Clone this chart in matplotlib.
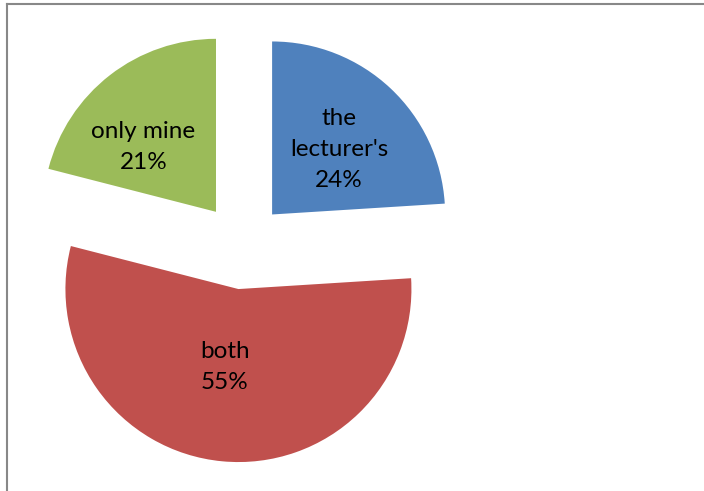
import numpy as np
import matplotlib.pyplot as plt
from matplotlib.lines import Line2D

# --- Data ---
labels = ["the\nlecturer's", "both", "only mine"]
shares = [24, 55, 21]
colors = ["#4F81BD", "#C0504D", "#9BBB59"]
# label offset from each exploded wedge's centre, in radius units
label_off = [(0.387, 0.376), (-0.078, -0.451), (-0.42, 0.376)]

plt.rcParams['font.family'] = ['Lato', 'DejaVu Sans']

W, H = 704, 491
R = 173.0              # pie radius in pixels
cx, cy = 242.5, 245.0  # pie centre in pixels (from bottom-left)
explode = 0.25

fig = plt.figure(figsize=(W / 100, H / 100), dpi=100)
ax = fig.add_axes([0, 0, 1, 1])

wedges, _ = ax.pie(shares, colors=colors, startangle=90, counterclock=False,
                   explode=[explode] * len(shares), radius=1.0,
                   wedgeprops=dict(linewidth=0))

for w, lab, v, (dx, dy) in zip(wedges, labels, shares, label_off):
    ox, oy = w.center
    ax.text(ox + dx, oy + dy, f"{lab}\n{v}%",
            ha='center', va='center', fontsize=17.5, linespacing=1.6,
            color='black')

ax.set_xlim(-cx / R, (W - cx) / R)
ax.set_ylim(-cy / R, (H - cy) / R)
ax.set_aspect('equal')
ax.axis('off')

# chart border (only left and top edges visible)
fx, fy = 7.5 / W, 1 - 3.5 / H
fig.add_artist(Line2D([fx, fx], [0, fy], transform=fig.transFigure, color='#888888', lw=1.5))
fig.add_artist(Line2D([fx, 1], [fy, fy], transform=fig.transFigure, color='#888888', lw=1.5))

fig.savefig("out.png", dpi=100)
